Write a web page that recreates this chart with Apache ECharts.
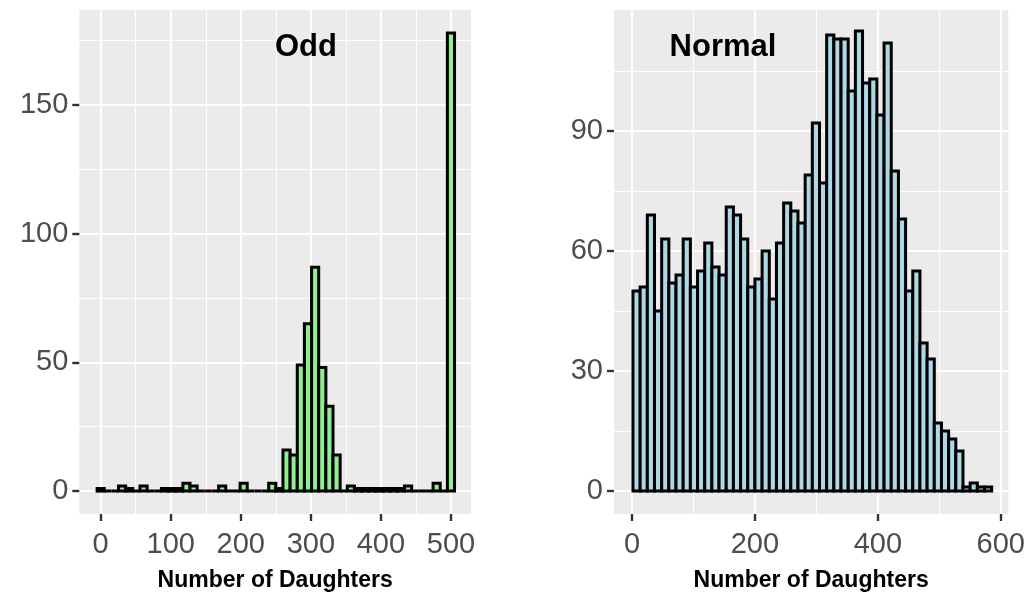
<!DOCTYPE html>
<html><head><meta charset="utf-8">
<script src="https://cdn.jsdelivr.net/npm/echarts@6/dist/echarts.min.js"></script>
<style>html,body{margin:0;padding:0;background:#fff}#c{width:1028px;height:599px}</style>
</head><body><div id="c"></div>
<script>
// ---- data ----
const oddCounts = [1,0,0,2,1,0,2,0,0,1,1,1,3,2,0,0,0,2,0,0,3,0,0,0,3,1,16,14,49,65,87,48,33,14,0,2,1,1,1,1,1,1,1,2,0,0,0,3,0,178];
const normalCounts = [50,51,69,45,63,52,54,63,51,55,62,56,54,71,69,63,51,53,60,48,62,72,70,67,79,92,77,114,113,113,100,115,102,103,94,112,80,68,50,55,37,33,17,15,13,10,1,2,1,1];
const oddBinStart = 0, oddBinWidth = 500 / 49;
const normalBinStart = 7.5, normalBinWidth = 11.67;
const oddXTicks = [0,100,200,300,400,500];
const oddXMinor = [50,150,250,350,450];
const oddYTicks = [0,50,100,150];
const oddYMinor = [25,75,125,175];
const normalXTicks = [0,200,400,600];
const normalXMinor = [100,300,500];
const normalYTicks = [0,30,60,90];
const normalYMinor = [15,45,75,105];
const panelTitles = ['Odd', 'Normal'];
const xTitle = 'Number of Daughters';

// ---- build ----
const FONT = '"Liberation Sans", Arial, Helvetica, sans-serif';
const toData = (counts, start, w) => counts.map((v, i) => [start + i * w, v]);

function majorAxis(grid, min, max, ticks, isX) {
  const a = {
    type: 'value', gridIndex: grid, min: min, max: max,
    axisLine: { show: false, onZero: false },
    axisTick: { show: true, customValues: ticks, length: 7, lineStyle: { color: '#333333', width: 2.4 } },
    axisLabel: { show: true, customValues: ticks, color: '#4D4D4D', fontSize: 29, fontFamily: FONT,
                 margin: isX ? 16 : 11 },
    splitLine: { show: true, lineStyle: { color: '#FFFFFF', width: 2.2 } }
  };
  if (isX) {
    a.name = xTitle; a.nameLocation = 'middle'; a.nameGap = 55;
    a.nameTextStyle = { color: '#000', fontSize: 23, fontWeight: 'bold', fontFamily: FONT };
  }
  return a;
}
function minorAxis(grid, min, max, ticks) {
  return {
    type: 'value', gridIndex: grid, min: min, max: max,
    axisLine: { show: false, onZero: false },
    axisTick: { show: false, customValues: ticks },
    axisLabel: { show: false, customValues: ticks },
    splitLine: { show: true, lineStyle: { color: '#FFFFFF', width: 1.1 } }
  };
}
function histSeries(xi, yi, data, w, fill) {
  return {
    type: 'custom', xAxisIndex: xi, yAxisIndex: yi, data: data, clip: false,
    encode: { x: 0, y: 1 },
    renderItem: function (params, api) {
      const c = api.value(0), v = api.value(1);
      const p0 = api.coord([c - w / 2, v]);
      const p1 = api.coord([c + w / 2, 0]);
      return { type: 'rect',
        shape: { x: p0[0], y: p0[1], width: p1[0] - p0[0], height: p1[1] - p0[1] },
        style: { fill: fill, stroke: '#000000', lineWidth: 3 } };
    }
  };
}

const chart = echarts.init(document.getElementById('c'), null, { renderer: 'canvas' });
chart.setOption({
  animation: false,
  backgroundColor: '#FFFFFF',
  grid: [
    { left: 79.3, top: 10, width: 391.7, height: 504, show: true, backgroundColor: '#EBEBEB', borderWidth: 0 },
    { left: 614, top: 10, width: 395.5, height: 504, show: true, backgroundColor: '#EBEBEB', borderWidth: 0 }
  ],
  xAxis: [
    majorAxis(0, -30.5, 528.6, oddXTicks, true),
    minorAxis(0, -30.5, 528.6, oddXMinor),
    majorAxis(1, -29.2, 612.1, normalXTicks, true),
    minorAxis(1, -29.2, 612.1, normalXMinor)
  ],
  yAxis: [
    majorAxis(0, -8.9, 186.9, oddYTicks, false),
    minorAxis(0, -8.9, 186.9, oddYMinor),
    majorAxis(1, -5.75, 120.25, normalYTicks, false),
    minorAxis(1, -5.75, 120.25, normalYMinor)
  ],
  graphic: [
    { type: 'text', x: 306, y: 47, z: 100,
      style: { text: panelTitles[0], font: 'bold 31px ' + FONT, fill: '#000', align: 'center', verticalAlign: 'middle' } },
    { type: 'text', x: 723, y: 47, z: 100,
      style: { text: panelTitles[1], font: 'bold 31px ' + FONT, fill: '#000', align: 'center', verticalAlign: 'middle' } }
  ],
  series: [
    histSeries(0, 0, toData(oddCounts, oddBinStart, oddBinWidth), oddBinWidth, '#90EE90'),
    histSeries(2, 2, toData(normalCounts, normalBinStart, normalBinWidth), normalBinWidth, '#ADD8E6')
  ]
});
</script></body></html>
